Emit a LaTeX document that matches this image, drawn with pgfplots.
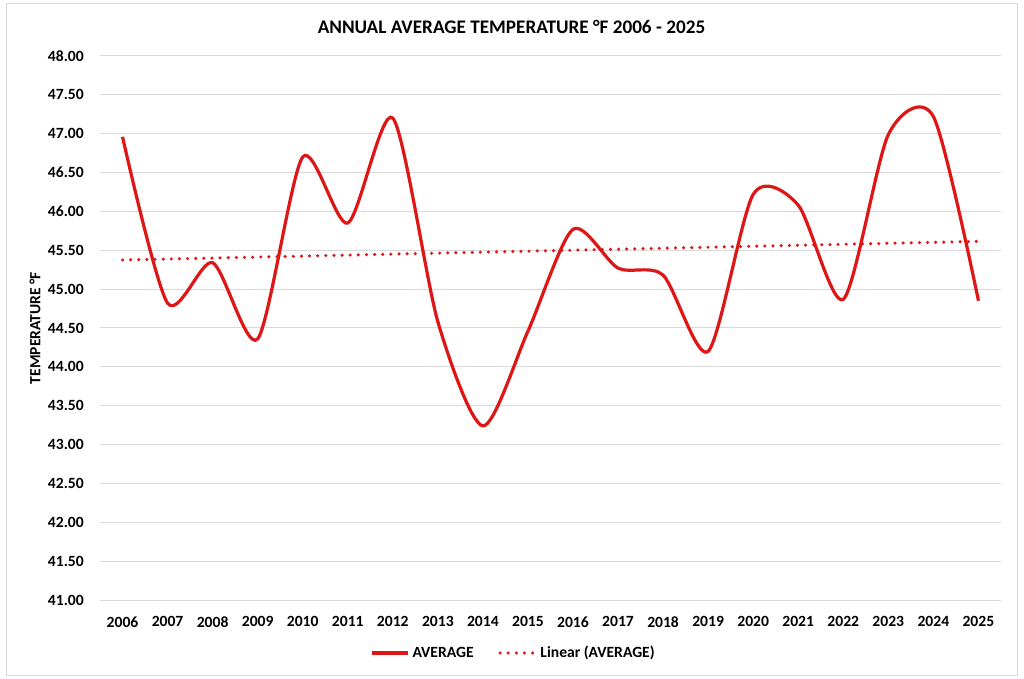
\documentclass[border=0pt]{standalone}
\usepackage{pgfplots}
\pgfplotsset{compat=1.18}
\usepackage{fontspec}
\setmainfont{Carlito}
\definecolor{linered}{RGB}{222,22,22}
\definecolor{gridgray}{RGB}{217,217,217}

\begin{document}
\begin{tikzpicture}
\useasboundingbox (0,0) rectangle (768pt,508.5pt);
\draw[gridgray, line width=0.75pt] (4.5pt,2.25pt) rectangle (762.75pt,505.5pt);
\begin{axis}[
    at={(75pt,58.5pt)}, anchor=south west,
    scale only axis,
    width=675.75pt, height=408pt,
    font=\fontsize{11.7}{14}\selectfont\bfseries,
    xmin=2005.5, xmax=2025.5,
    ymin=41, ymax=48,
    xtick={2006,...,2025},
    ytick distance=0.5,
    /pgf/number format/assume math mode=true,
    xticklabel style={/pgf/number format/1000 sep={}, anchor=center, inner sep=0pt, yshift=-16.3pt},
    yticklabel style={/pgf/number format/.cd, fixed, fixed zerofill, precision=2, /tikz/.cd, anchor=east, inner sep=0pt, xshift=-12pt},
    ymajorgrids,
    major grid style={gridgray, line width=0.75pt},
    axis line style={draw=none},
    major tick length=0pt,
    every axis title shift=0pt,
    title={ANNUAL AVERAGE TEMPERATURE °F 2006 - 2025},
    title style={at={(axis description cs:0.4567,1.0533)}, anchor=center, inner sep=0pt,
      font=\fontsize{14.4}{17}\selectfont\bfseries},
    ylabel={TEMPERATURE °F},
    ylabel style={at={(axis description cs:-0.0721,0.5)}, anchor=center, inner sep=0pt},
    legend style={at={(axis description cs:0.4595,-0.0974)}, anchor=center, draw=none,
      legend columns=2, font=\fontsize{11.7}{14}\selectfont\bfseries,
      /tikz/every even column/.append style={column sep=16.5pt}},
    legend cell align=left,
    legend image code/.code={\draw[#1] (0pt,0pt) -- (27pt,0pt);},
]
\addplot[linered, line width=2.4pt, smooth, tension=0.45] coordinates {
  (2006,46.96) (2007,44.82) (2008,45.34) (2009,44.36) (2010,46.70)
  (2011,45.85) (2012,47.20) (2013,44.58) (2014,43.24) (2015,44.46)
  (2016,45.77) (2017,45.27) (2018,45.18) (2019,44.20) (2020,46.22)
  (2021,46.08) (2022,44.87) (2023,46.99) (2024,47.22) (2025,44.85)
};
\addlegendentry{AVERAGE}
\addplot[linered, line width=2.6pt, line cap=round, dash pattern=on 0pt off 6.1pt] coordinates {
  (2006,45.375) (2025,45.615)
};
\addlegendentry{Linear (AVERAGE)}
\end{axis}
\end{tikzpicture}
\end{document}
